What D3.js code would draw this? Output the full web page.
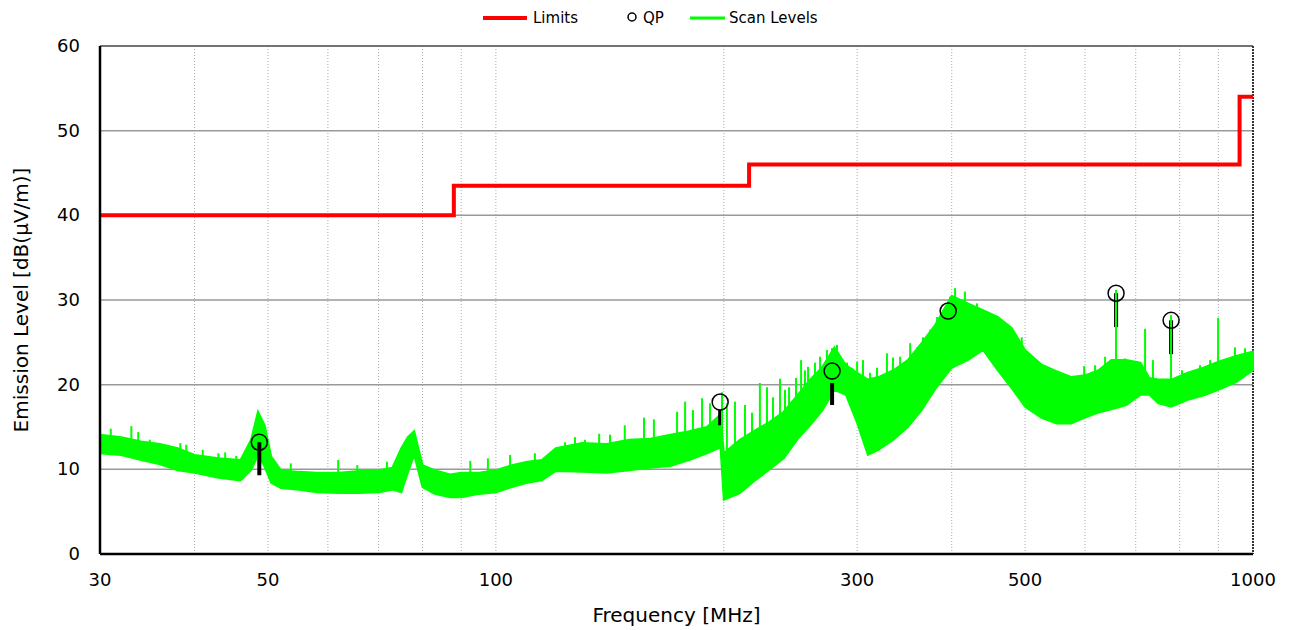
<!DOCTYPE html>
<html>
<head>
<meta charset="utf-8">
<title>Emission Scan</title>
<script src="https://cdn.jsdelivr.net/npm/d3@7"></script>
<style>
  body { margin: 0; background: #fff; }
  text { font-family: "DejaVu Sans", Verdana, sans-serif; fill: #000; }
</style>
</head>
<body>
<div id="chart"></div>
<script>
// limit line (step), MHz / dB(uV/m)
const limitFreq = [30, 88, 88, 216, 216, 960, 960, 1000];
const limitLevel = [40, 40, 43.5, 43.5, 46, 46, 54, 54];

// scan level envelope
const scanFreq = [30, 32, 34, 36, 38, 40, 43, 46, 47.5, 48.5, 49.5, 50.5, 52, 55, 58, 62, 66, 70, 73, 75,
  76.5, 78, 80, 83, 87, 90, 95, 100, 105, 110, 115, 120, 130, 140, 150, 160, 170, 180, 190, 198,
  200, 210, 220, 230, 240, 250, 260, 270, 280, 290, 300, 310, 320, 335, 350, 365, 380, 400, 420, 440,
  460, 480, 500, 525, 550, 575, 600, 625, 650, 680, 710, 730, 750, 780, 820, 860, 900, 950, 1000];
const scanHigh = [14.1, 13.8, 13.3, 13.0, 12.5, 11.7, 11.3, 11.1, 13.5, 16.8, 15.2, 11.5, 9.9, 9.7, 9.6, 9.6, 9.8, 9.9, 10.2, 12.5,
  13.8, 14.5, 10.5, 9.9, 9.4, 9.6, 9.6, 9.9, 10.5, 10.9, 11.1, 12.5, 13.1, 13.0, 13.5, 13.6, 14.1, 14.5, 15.0, 16.5,
  11.9, 13.5, 14.6, 15.6, 16.8, 18.7, 20.6, 22.1, 24.4, 22.3, 21.4, 20.6, 20.9, 21.7, 22.9, 24.9, 27.0, 30.5, 29.6, 28.8,
  28.0, 26.7, 24.1, 22.4, 21.6, 20.9, 21.1, 21.7, 22.9, 22.9, 22.6, 20.8, 20.6, 20.6, 21.4, 22.0, 22.7, 23.4, 23.9];
const scanLow = [11.9, 11.7, 11.1, 10.6, 9.9, 9.6, 9.0, 8.7, 9.9, 11.7, 10.3, 8.4, 7.8, 7.6, 7.3, 7.2, 7.2, 7.3, 7.6, 7.3,
  9.6, 11.7, 7.9, 7.1, 6.7, 6.7, 7.1, 7.3, 7.9, 8.4, 8.7, 9.8, 9.7, 9.6, 9.9, 10.2, 10.4, 11.1, 11.9, 12.6,
  6.4, 7.2, 8.7, 10.0, 11.3, 13.5, 15.2, 17.0, 19.4, 18.8, 15.5, 11.7, 12.3, 13.5, 15.0, 17.0, 19.4, 22.0, 22.9, 24.1,
  21.7, 19.6, 17.4, 16.1, 15.4, 15.4, 16.1, 16.7, 17.1, 17.6, 18.8, 18.8, 17.8, 17.4, 18.2, 18.7, 19.4, 20.3, 21.7];

// narrow spikes standing out of the trace
const spikeFreq = [31.0, 33.0, 33.7, 34.9, 38.3, 39.0, 41.0, 43.0, 43.9, 45.4, 53.6, 61.9, 65.6, 71.8,
  92.5, 97.6, 104.4, 112.6, 123.4, 127.2, 131.1, 136.9, 141.5, 148, 156.9, 161.7, 173.5, 177.8, 182.1, 187.2, 191.8, 198.9,
  201.9, 206.9, 213.3, 217.9, 223.2, 228.1, 232.3, 237.3, 240.9, 243.9, 249.1, 253, 256.0, 258.4, 263.9, 268.0, 273.7, 277.9, 282.2,
  290.9, 295.4, 300, 305.4, 312.0, 318.7, 328.5, 334.6, 341.9, 352.5, 360.0, 366.6, 374.7, 382.6, 389.6, 398, 404.1, 416.4,
  432, 449.5, 463, 482, 495, 510.6, 536, 598.3, 618.6, 637.8, 659.3, 677.6, 720.2, 737.6, 779.4, 805.9, 851, 877.7, 899.3, 946.7, 976];
const spikeLevel = [14.8, 15.1, 14.4, 13.5, 13.1, 12.9, 12.3, 11.9, 12.0, 11.6, 10.7, 11.1, 10.5, 10.9,
  11.0, 11.3, 11.7, 11.9, 13.2, 13.8, 13.5, 14.2, 14.1, 15.2, 16.1, 15.9, 16.8, 18.0, 17.0, 18.4, 17.8, 19.1,
  17.8, 18.0, 17.6, 16.7, 20.2, 19.7, 18.5, 20.7, 19.4, 19.7, 20.8, 22.9, 21.7, 22.1, 22.6, 23.3, 24.1, 24.3, 24.7,
  22.6, 22.0, 22.7, 22.9, 21.4, 22.0, 23.7, 23.2, 23.3, 24.9, 24.4, 25.6, 26.5, 28.0, 28.8, 30.4, 31.4, 31.0,
  29.6, 28.0, 27.6, 26.5, 25.6, 22.6, 21.7, 22.2, 22.3, 23.3, 31.2, 23.1, 26.6, 22.9, 28.2, 21.7, 22.3, 22.9, 27.9, 24.4, 24.3];

// quasi-peak results, with the visible part of each marker bar
const qpFreq = [48.7, 197.8, 278, 395.7, 659.4, 779.5];
const qpLevel = [13.2, 17.95, 21.6, 28.7, 30.8, 27.6];
const qpBarTop = [13.2, 17.0, 20.2, 28.7, 30.8, 27.6];
const qpBarLow = [9.3, 15.2, 17.6, 28.7, 26.8, 23.6];

const xTicks = [30, 50, 100, 300, 500, 1000];
const xGrid = [40, 50, 60, 70, 80, 90, 100, 200, 300, 400, 500, 600, 700, 800, 900];
const yTicks = [0, 10, 20, 30, 40, 50, 60];

const W = 1294, H = 630;
const margin = {top: 46, right: 41, bottom: 76, left: 100};
const width = W - margin.left - margin.right,
      height = H - margin.top - margin.bottom;

const svg = d3.select("#chart").append("svg")
    .attr("width", W)
    .attr("height", H);

const g = svg.append("g")
    .attr("transform", "translate(" + margin.left + "," + margin.top + ")");

const x = d3.scaleLog().domain([30, 1000]).range([0, width]);
const y = d3.scaleLinear().domain([0, 60]).range([height, 0]);

// grid
g.selectAll(".vgrid").data(xGrid).enter().append("line")
    .attr("x1", d => x(d)).attr("x2", d => x(d))
    .attr("y1", 0).attr("y2", height)
    .attr("stroke", "#aaa").attr("stroke-width", 1)
    .attr("stroke-dasharray", "1,2");

g.selectAll(".hgrid").data(yTicks.slice(1, -1)).enter().append("line")
    .attr("x1", 0).attr("x2", width)
    .attr("y1", d => y(d)).attr("y2", d => y(d))
    .attr("stroke", "#999").attr("stroke-width", 1.5);

// frame
g.append("line").attr("x1", 0).attr("x2", width).attr("y1", 0).attr("y2", 0)
    .attr("stroke", "#444").attr("stroke-width", 1.5);
g.append("line").attr("x1", width).attr("x2", width).attr("y1", 0).attr("y2", height)
    .attr("stroke", "#333").attr("stroke-width", 2).attr("stroke-dasharray", "2,1");

// limits
const limitData = limitFreq.map((f, i) => [f, limitLevel[i]]);
g.append("path")
    .datum(limitData)
    .attr("fill", "none")
    .attr("stroke", "#ff0000")
    .attr("stroke-width", 4)
    .attr("d", d3.line().x(d => x(d[0])).y(d => y(d[1])));

// scan levels
const scanData = scanFreq.map((f, i) => ({f: f, hi: scanHigh[i], lo: scanLow[i]}));
g.append("path")
    .datum(scanData)
    .attr("fill", "#00ff00")
    .attr("stroke", "#00ff00")
    .attr("stroke-width", 2)
    .attr("d", d3.area().x(d => x(d.f)).y0(d => y(d.lo)).y1(d => y(d.hi)));

// qp bars
g.selectAll(".qpbar").data(qpFreq).enter().append("line")
    .attr("x1", d => x(d)).attr("x2", d => x(d))
    .attr("y1", (d, i) => y(qpBarTop[i]))
    .attr("y2", (d, i) => y(qpBarLow[i]))
    .attr("stroke", "#000").attr("stroke-width", 4);

const hiAt = d3.scaleLinear().domain(scanFreq).range(scanHigh);
g.selectAll(".spike").data(spikeFreq).enter().append("line")
    .attr("x1", d => x(d)).attr("x2", d => x(d))
    .attr("y1", d => y(hiAt(d)))
    .attr("y2", (d, i) => y(Math.max(spikeLevel[i], hiAt(d))))
    .attr("stroke", "#00ff00").attr("stroke-width", 2);

// qp circles
g.selectAll(".qp").data(qpFreq).enter().append("circle")
    .attr("cx", d => x(d))
    .attr("cy", (d, i) => y(qpLevel[i]))
    .attr("r", 8)
    .attr("fill", "none")
    .attr("stroke", "#000")
    .attr("stroke-width", 1.5);

// axes
g.append("line").attr("x1", 0).attr("x2", 0).attr("y1", 0).attr("y2", height)
    .attr("stroke", "#000").attr("stroke-width", 2.5);
g.append("line").attr("x1", 0).attr("x2", width).attr("y1", height).attr("y2", height)
    .attr("stroke", "#000").attr("stroke-width", 2.5);

g.selectAll(".ylab").data(yTicks).enter().append("text")
    .attr("x", -20).attr("y", d => y(d) + 6)
    .attr("text-anchor", "end")
    .style("font-size", "18px")
    .text(d => d);

g.selectAll(".xlab").data(xTicks).enter().append("text")
    .attr("x", d => x(d)).attr("y", height + 32)
    .attr("text-anchor", "middle")
    .style("font-size", "18px")
    .text(d => d);

svg.append("text")
    .attr("x", margin.left + width / 2).attr("y", 622)
    .attr("text-anchor", "middle")
    .style("font-size", "20px")
    .text("Frequency [MHz]");

svg.append("text")
    .attr("transform", "translate(28," + (margin.top + height / 2) + ") rotate(-90)")
    .attr("text-anchor", "middle")
    .style("font-size", "20px")
    .text("Emission Level [dB(μV/m)]");

// legend
const leg = svg.append("g").attr("transform", "translate(0,18)");
leg.append("line").attr("x1", 483).attr("x2", 527).attr("y1", 0).attr("y2", 0)
    .attr("stroke", "#ff0000").attr("stroke-width", 4);
leg.append("text").attr("x", 533).attr("y", 5).style("font-size", "15px").text("Limits");
leg.append("circle").attr("cx", 632).attr("cy", -1).attr("r", 4)
    .attr("fill", "none").attr("stroke", "#000").attr("stroke-width", 1.5);
leg.append("text").attr("x", 643).attr("y", 5).style("font-size", "15px").text("QP");
leg.append("line").attr("x1", 690).attr("x2", 725).attr("y1", 0).attr("y2", 0)
    .attr("stroke", "#00ff00").attr("stroke-width", 3);
leg.append("text").attr("x", 729).attr("y", 5).style("font-size", "15px").text("Scan Levels");
</script>
</body>
</html>
